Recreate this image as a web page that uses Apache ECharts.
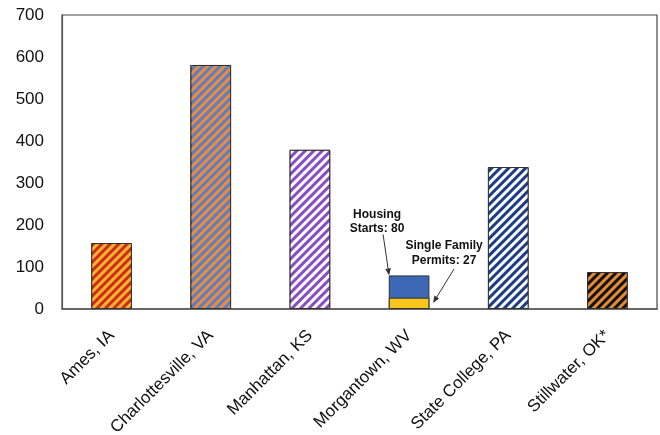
<!DOCTYPE html>
<html>
<head>
<meta charset="utf-8">
<script src="https://cdn.jsdelivr.net/npm/echarts@6/dist/echarts.min.js"></script>
<style>html,body{margin:0;padding:0;background:#fff}#c{width:660px;height:435px}</style>
</head>
<body>
<div id="c"></div>
<script>
var categories = ['Ames, IA', 'Charlottesville, VA', 'Manhattan, KS', 'Morgantown, WV', 'State College, PA', 'Stillwater, OK*'];
var housingStarts = [157, 581, 379, 80, 338, 88];
var singleFamilyPermits = [null, null, null, 27, null, null];
var yTicks = [0, 100, 200, 300, 400, 500, 600, 700];

// styles per category: [base colour, stripe colour or null]
var barStyles = [
  ['#d02a1e', '#f6b62a'],
  ['#5a7fc4', '#ec8b3c'],
  ['#8a4cc2', '#ffffff'],
  ['#3d67b5', null],
  ['#1d3c86', '#ffffff'],
  ['#111111', '#e58a35']
];

function stripe(color) {
  return {
    symbol: 'rect',
    symbolSize: 1,
    color: color,
    dashArrayX: [1, 0],
    dashArrayY: [3, 3],
    rotation: -Math.PI / 4
  };
}

var startsData = housingStarts.map(function (v, i) {
  var s = barStyles[i];
  var item = { value: v, itemStyle: { color: s[0], borderColor: '#333', borderWidth: 1 } };
  if (s[1]) item.itemStyle.decal = stripe(s[1]);
  return item;
});

var chart = echarts.init(document.getElementById('c'), null, { renderer: 'canvas' });
var option = {
  animation: false,
  grid: { left: 62, right: 3, top: 15, bottom: 126, outerBoundsMode: 'none', containLabel: false, show: true, borderColor: '#444', borderWidth: 1.2, backgroundColor: 'transparent' },
  xAxis: {
    type: 'category',
    data: categories,
    axisTick: { show: false },
    axisLine: { lineStyle: { color: '#555', width: 1.5 } },
    axisLabel: { rotate: 45, color: '#111', fontFamily: 'Liberation Sans, Arial, sans-serif', fontSize: 17, margin: 24 }
  },
  yAxis: {
    type: 'value',
    min: yTicks[0],
    max: yTicks[yTicks.length - 1],
    interval: yTicks[1] - yTicks[0],
    splitLine: { show: false },
    axisLine: { show: true, lineStyle: { color: '#555', width: 1.2 } },
    axisTick: { show: false },
    axisLabel: { color: '#111', fontFamily: 'Liberation Sans, Arial, sans-serif', fontSize: 17, margin: 18 }
  },
  series: [
    {
      name: 'Housing Starts',
      type: 'bar',
      barWidth: '41%',
      data: startsData
    },
    {
      name: 'Single Family Permits',
      type: 'bar',
      barWidth: '41%',
      barGap: '-100%',
      z: 3,
      itemStyle: { color: '#f7c51c', borderColor: '#333', borderWidth: 1 },
      data: singleFamilyPermits
    }
  ]
};
chart.setOption(option);

// annotations positioned relative to the Morgantown bar
var mi = 3;
var topPt = chart.convertToPixel({ xAxisIndex: 0, yAxisIndex: 0 }, [mi, housingStarts[mi]]);
var basePt = chart.convertToPixel({ xAxisIndex: 0, yAxisIndex: 0 }, [mi, 0]);
var cx = topPt[0], ty = topPt[1], by = basePt[1];
var font = 'bold 12px Liberation Sans, Arial, sans-serif';
function arrow(x1, y1, x2, y2) {
  var a = Math.atan2(y2 - y1, x2 - x1), L = 7, W = 2.8;
  var bx = x2 - L * Math.cos(a), byy = y2 - L * Math.sin(a);
  return [
    { type: 'line', shape: { x1: x1, y1: y1, x2: bx, y2: byy }, style: { stroke: '#333', lineWidth: 1 } },
    { type: 'polygon', shape: { points: [[x2, y2], [bx - W * Math.sin(a), byy + W * Math.cos(a)], [bx + W * Math.sin(a), byy - W * Math.cos(a)]] }, style: { fill: '#333' } }
  ];
}
var g = [
  { type: 'text', x: cx - 32, y: ty - 68, style: { text: 'Housing\nStarts: 80', font: font, fill: '#111', align: 'center', verticalAlign: 'top', lineHeight: 14 } },
  { type: 'text', x: cx + 35, y: by - 71, style: { text: 'Single Family\nPermits: 27', font: font, fill: '#111', align: 'center', verticalAlign: 'top', lineHeight: 15 } }
].concat(arrow(cx - 26, ty - 41, cx - 20, ty)).concat(arrow(cx + 45, by - 40, cx + 24, by - 6));
chart.setOption({ graphic: g });
</script>
</body>
</html>
